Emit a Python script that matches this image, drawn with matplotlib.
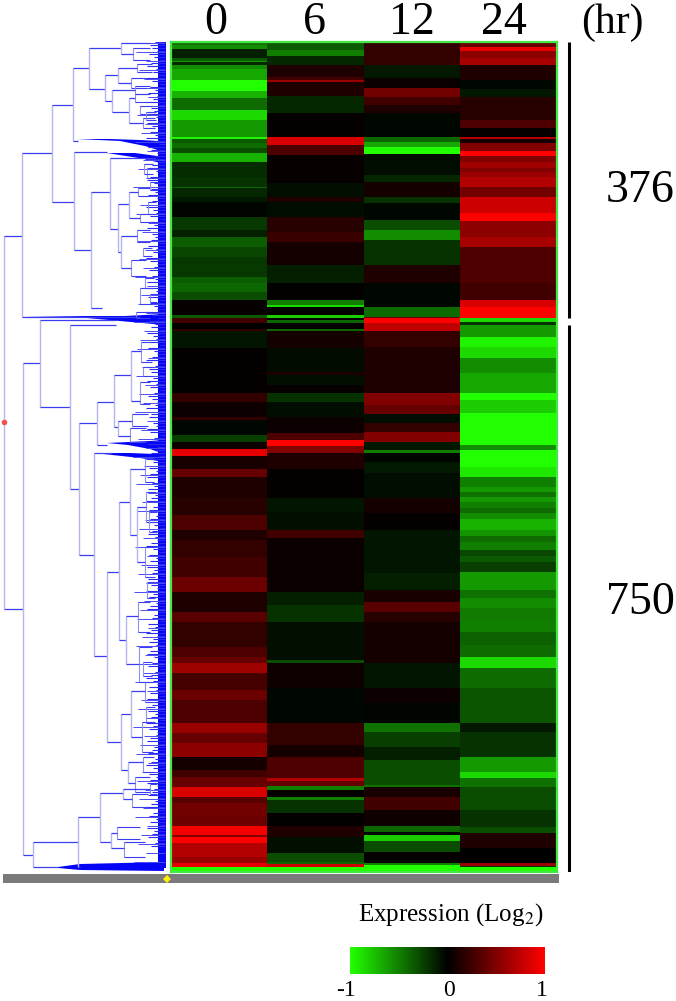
import numpy as np
import matplotlib
matplotlib.use("Agg")
import matplotlib.pyplot as plt
from matplotlib.colors import LinearSegmentedColormap

W, H = 676, 1001
plt.rcParams['font.family'] = ['Liberation Serif', 'DejaVu Serif']

hours = ["0", "6", "12", "24"]
cluster_sizes = ["376", "750"]
cluster_end_rows = [276, 830]

# heat map bands per time point: last row of each band and its log2 value
col0_ends = [3, 7, 16, 19, 20, 23, 27, 38, 49, 56, 68, 78, 95, 97, 101, 106, 111, 120, 135, 145, 146, 155, 160, 175,
             188, 195, 205, 215, 235, 241, 250, 258, 273, 276, 281, 287, 289, 306, 351, 360, 375, 378, 393, 400, 407,
             414, 427, 435, 456, 473, 488, 498, 515, 535, 550, 570, 580, 605, 615, 621, 631, 648, 658, 681, 691, 701,
             715, 728, 735, 745, 755, 761, 775, 784, 793, 795, 801, 815, 821, 825, 830]
col0_vals = [-.45, -.55, -.12, -.35, -.6, -.15, -.55, -.65, -1, -.7, -.42, -.85, -.6, -.95, -.35, -.42, -.3, -.7, -.17,
             -.2, -.4, -.15, -.1, -.02, -.22, -.13, -.36, -.28, -.22, -.36, -.4, -.3, .03, -.35, .25, 0, .2, -.08, .02,
             .2, .05, .2, -.03, -.25, .05, .9, .1, .4, .12, .15, .3, .12, .2, .25, .42, .12, .35, .2, .3, .4, .62, .28,
             .42, .3, .6, .4, .55, .08, .25, .4, .85, .35, .45, .42, .95, .5, 1, .7, .6, .9, -1]

col1_ends = [8, 14, 23, 35, 38, 40, 54, 71, 95, 103, 113, 141, 155, 160, 175, 190, 200, 223, 241, 258, 263, 265, 273,
             276, 278, 281, 287, 289, 306, 330, 333, 343, 351, 360, 375, 391, 398, 404, 411, 427, 456, 470, 488, 496,
             550, 563, 580, 618, 621, 646, 681, 703, 715, 736, 739, 744, 748, 755, 758, 771, 784, 795, 811, 820, 822,
             825, 830]
col1_vals = [-.35, -.5, -.15, .12, .25, .6, .12, -.15, .02, .85, .3, .03, -.06, .12, -.05, .15, .22, .08, -.12, .01,
             -.5, -.85, .01, -.8, 0, -.4, .02, -.4, .08, -.04, .12, -.06, .03, -.2, -.05, .05, .3, 1, .5, .12, .02,
             -.08, -.06, .25, .04, -.12, -.2, -.06, -.3, .06, -.03, .2, .08, .3, .7, .4, -.5, .02, -.5, -.2, .02,
             .12, -.06, -.3, -.4, .8, -1]

col2_ends = [23, 36, 46, 55, 63, 71, 95, 100, 105, 112, 133, 140, 155, 161, 178, 188, 198, 223, 241, 265, 275, 276,
             281, 289, 305, 351, 363, 372, 381, 390, 400, 408, 411, 420, 431, 456, 471, 488, 531, 548, 560, 570, 580,
             621, 646, 661, 681, 690, 705, 718, 743, 745, 755, 768, 784, 790, 793, 799, 810, 821, 823, 830]
col2_vals = [.2, -.1, .04, .45, .25, .12, -.03, -.4, -.65, -1, -.05, -.15, .08, -.2, -.03, -.3, -.55, -.2, .12, -.03,
             -.42, .4, 1, .75, .2, .12, .5, .4, -.05, .2, .5, -.1, -.5, -.02, -.1, -.05, .08, .02, -.08, -.12, .1,
             .35, .15, .08, -.08, .05, -.02, -.45, -.25, -.12, -.3, -.45, .1, .25, .06, -.4, -.03, -.8, -.3, .02,
             -.5, -1]

col3_ends = [5, 9, 16, 23, 38, 47, 55, 78, 86, 95, 97, 101, 109, 114, 120, 126, 130, 135, 145, 155, 171, 179, 195, 205,
             241, 258, 265, 276, 280, 283, 295, 305, 316, 331, 351, 358, 371, 403, 408, 425, 435, 445, 450, 455, 460,
             466, 471, 477, 488, 494, 500, 508, 514, 520, 530, 548, 556, 566, 578, 590, 603, 615, 626, 646, 681, 690,
             715, 730, 736, 745, 768, 785, 791, 806, 821, 824, 825, 830]
col3_vals = [.4, .9, .55, .65, .12, -.03, -.1, .15, .3, .03, .7, .1, .5, 1, .5, .62, .5, .6, .7, .45, .8, 1, .55, .65,
             .3, .25, .85, 1, -.85, -.2, -.6, -.95, -.85, -.55, -.65, -1, -.8, -1, -.55, -1, -.9, -.5, -.6, -.45, -.6,
             -.5, -.42, -.55, -.7, -.58, -.42, -.5, -.28, -.35, -.25, -.6, -.45, -.55, -.48, -.5, -.38, -.42, -.85,
             -.42, -.33, -.1, -.2, -.6, -.85, -.45, -.3, -.2, -.3, .12, 0, .6, -.2, -1]

# dendrogram: each link joins two rows, with its depth and how deep each child starts
link_top = [194, 111, 63, 26, 6, 1, 33, 26, 48, 56, 110, 150, 116, 162, 150, 194, 321, 278, 283, 381, 360, 333, 309,
            379, 411, 530, 460, 427, 465, 574, 672, 649, 720, 800, 775, 751, 747, 791]
link_bot = [567, 275, 160, 99, 47, 12, 59, 41, 70, 81, 208, 266, 187, 210, 176, 226, 813, 365, 447, 513, 403, 385, 359,
            394, 614, 700, 598, 493, 520, 622, 728, 695, 741, 825, 825, 800, 757, 806]
link_depth = [3.5, 22, 52, 73, 89, 121, 105, 118, 112, 129, 74, 91, 110, 118, 129, 121, 23, 40, 70, 79, 97, 114, 131,
              118, 94, 107, 119, 130, 137, 126, 121, 131, 128, 33, 78, 100, 123, 111]
link_top_tip = [22, 52, 73, 89, 121, 150, 118, 137, 135, 135, 107, 110, 155, 129, 138, 137, 40, 116, 116, 97, 114, 131,
                141, 132, 112, 119, 130, 145, 146, 138, 131, 145, 143, 78, 100, 123, 150, 117]
link_bot_tip = [23, 140, 74, 78, 105, 133, 112, 131, 129, 143, 91, 102, 118, 121, 140, 131, 33, 70, 79, 94, 107, 118,
                140, 130, 107, 121, 126, 137, 145, 139, 128, 142, 135, 58, 80, 111, 132, 124]

# lower merges hanging off the links above
sub_top = [6, 22, 36, 44, 52, 76, 64, 70, 146, 172, 188, 218, 206, 126, 140, 236, 246, 252, 300, 340, 372, 386, 416,
           450, 505, 560, 605, 640, 680, 715, 735, 742, 752, 785, 800, 122, 160, 270, 325, 470, 540, 620, 665]
sub_bot = [18, 30, 46, 52, 60, 86, 72, 78, 154, 180, 200, 234, 214, 136, 148, 246, 262, 260, 320, 362, 384, 400, 440,
           480, 535, 590, 640, 660, 710, 730, 750, 752, 765, 797, 815, 132, 172, 276, 334, 490, 556, 634, 680]
sub_depth = [133, 137, 131, 135, 135, 143, 140, 146, 138, 140, 137, 131, 143, 147, 150, 145, 140, 150, 141, 140, 132,
             130, 145, 146, 145, 138, 139, 145, 142, 143, 135, 150, 132, 117, 124, 144, 148, 136, 143, 149, 147, 143,
             146]
sub_tip = [150, 152, 146, 150, 148, 155, 152, 156, 150, 152, 150, 146, 152, 156, 158, 154, 152, 157, 152, 150, 148, 146,
           154, 156, 155, 150, 152, 154, 153, 154, 150, 157, 148, 140, 145, 153, 156, 150, 153, 157, 155, 152, 155]

# thick runs of tight merges: depth and row of the outline of each mass
wedge_depth = [[77, 110, 140, 158, 164, 164, 145, 120],
               [107, 135, 150, 164, 164, 145],
               [22, 87, 125, 164, 164, 120, 87],
               [107, 128, 150, 164, 164, 150, 128],
               [94, 130, 155, 164, 164, 140],
               [33, 58, 80, 164, 164, 80, 58]]
wedge_row = [[97, 97, 98, 99, 111, 110, 104, 99],
             [111, 111, 113, 115, 122, 117],
             [275, 274, 274, 272, 283, 279, 276],
             [401, 400, 399, 398, 412, 407, 403],
             [411, 411, 412, 410, 420, 416],
             [825, 825, 822, 820, 829, 828, 826]]

# leaf tips down the dendrogram, one every three rows
tooth_tip = [155, 150, 152, 157, 149, 154, 159, 151, 147, 156, 153, 158, 146, 152, 160, 150, 155, 148, 157, 153,
             145, 159, 151, 154, 149, 156, 160, 147, 152, 158, 150, 155, 146, 153, 159, 148, 151, 157, 154, 145,
             158, 152, 149, 156, 160, 150, 147, 154, 158, 151, 155, 148, 157, 152, 159, 146, 153, 156, 150, 160,
             149, 154, 147, 158, 152, 155, 151, 159, 148, 156, 153, 160, 146, 150, 157, 154, 149, 158, 152, 155,
             147, 159, 151, 156, 153, 148, 160, 150, 154, 157, 146, 152, 158, 149, 155, 151, 159, 147, 153, 156,
             150, 160, 148, 154, 157, 152, 146, 158, 155, 149, 151, 159, 153, 147, 156, 150, 160, 154, 148, 152,
             157, 155, 146, 159, 151, 149, 158, 153, 156, 147, 150, 160, 154, 152, 148, 157, 155, 151, 159, 146,
             153, 158, 149, 156, 150, 147, 160, 152, 154, 148, 157, 155, 151, 146, 159, 153, 149, 158, 156, 150,
             147, 154, 160, 152, 148, 155, 157, 151, 146, 153, 159, 149, 156, 150, 158, 147, 154, 152, 160, 148,
             155, 151, 157, 146, 153, 149, 159, 156, 150, 147, 158, 154, 152, 160, 148, 155, 151, 146, 157, 153,
             149, 156, 159, 150, 147, 154, 158, 152, 148, 160, 155, 151, 146, 153, 157, 149, 156, 150, 159, 147,
             154, 152, 158, 148, 155, 151, 160, 146, 153, 149, 157, 156, 150, 147, 159, 154, 152, 148, 158, 155,
             151, 146, 153, 160, 149, 156, 150, 147, 157, 154, 152, 148, 159, 155, 151, 146, 158, 153, 149, 156,
             150, 160, 147, 154, 152, 148, 157, 155, 151]

# longer leaves, one every nine rows
long_tip = [142, 136, 146, 139, 144, 134, 148, 140, 137, 145, 141, 135, 147, 143, 138, 146, 133, 144, 140, 136,
            148, 142, 137, 145, 139, 143, 135, 147, 141, 138, 146, 134, 144, 140, 137, 148, 142, 136, 145, 139,
            143, 135, 147, 141, 138, 146, 133, 144, 140, 136, 148, 142, 137, 145, 139, 143, 135, 147, 141, 138,
            146, 134, 144, 140, 137, 148, 142, 136, 145, 139, 143, 135, 147, 141, 138, 146, 133, 144, 140, 136,
            148, 142, 137, 145, 139, 143, 135, 147, 141, 138, 146, 134]

scale_positions = [-1.04, 0.015, 0.97]
scale_labels = ["-1", "0", "1"]
hour_centres = [0.116, 0.371, 0.624, 0.862]


def ax_px(x0, y0, x1, y1):
    return fig.add_axes([x0 / W, 1 - y1 / H, (x1 - x0) / W, (y1 - y0) / H])


def expand(ends, vals):
    return np.repeat(vals, np.diff([0] + ends))


cmap = LinearSegmentedColormap.from_list("gbr", ["#22ff00", "#000000", "#ff0000"])
fig = plt.figure(figsize=(W / 100, H / 100), dpi=100)

# heat map
ax = ax_px(171, 42, 557, 872)
matrix = np.column_stack([expand(col0_ends, col0_vals), expand(col1_ends, col1_vals),
                          expand(col2_ends, col2_vals), expand(col3_ends, col3_vals)])
ax.imshow(matrix, cmap=cmap, vmin=-1, vmax=1, aspect="auto", interpolation="nearest")
ax.set_xticks([])
ax.set_yticks([])
for s in ax.spines.values():
    s.set_color("#44e844")
    s.set_linewidth(1.6)

# time labels
for c, h in zip(hour_centres, hours):
    ax.text(c, 1.0235, h, fontsize=33, ha="center", va="center", transform=ax.transAxes)
ax.text(1.143, 1.0235, "(hr)", fontsize=30, ha="center", va="center", transform=ax.transAxes)

# dendrogram
den = ax_px(0, 42, 171, 872)
den.set_xlim(0, 171)
den.set_ylim(830, 0)
den.axis("off")
for r, tip in enumerate(tooth_tip):
    den.plot([tip, 165], [r * 3, r * 3], color="#2a2af2", lw=0.8, solid_capstyle="butt")
for r, tip in enumerate(long_tip):
    den.plot([tip, 165], [r * 9 + 1, r * 9 + 1], color="#4a4af2", lw=0.7, solid_capstyle="butt")
for d, r in zip(wedge_depth, wedge_row):
    den.fill(d, r, color="#0505f5", lw=0)
den.fill_betweenx([0, 826], 158, 165.5, color="#0505f5", lw=0)
for t, b, d, tip in zip(sub_top, sub_bot, sub_depth, sub_tip):
    den.plot([d, d], [t, b], color="#8f92ee", lw=0.8, solid_capstyle="butt")
    den.plot([d, tip], [t, t], color="#3c3cf2", lw=0.8, solid_capstyle="butt")
    den.plot([d, tip], [b, b], color="#3c3cf2", lw=0.8, solid_capstyle="butt")
for t, b, d, tt, bt in zip(link_top, link_bot, link_depth, link_top_tip, link_bot_tip):
    den.plot([d, d], [t, b], color="#b4b6f0", lw=1.0, solid_capstyle="butt")
    den.plot([d, tt], [t, t], color="#3c3cf2", lw=0.9, solid_capstyle="butt")
    den.plot([d, bt], [b, b], color="#3c3cf2", lw=0.9, solid_capstyle="butt")
den.plot([3.5], [380], marker="o", ms=4, color="#f05050", mew=0)

# slider under the tree
bar = ax_px(3, 874, 559, 883)
bar.set_facecolor("#7a7a7a")
bar.set_xlim(3, 559)
bar.set_ylim(0, 1)
bar.set_xticks([])
bar.set_yticks([])
for s in bar.spines.values():
    s.set_visible(False)
bar.plot([167], [0.5], marker="D", ms=4.5, color="#ffee00", mew=0, clip_on=False)

# cluster brackets
side = ax_px(560, 42, 676, 872)
side.set_xlim(560, 676)
side.set_ylim(830, 0)
side.axis("off")
start = 0
for end, label in zip(cluster_end_rows, cluster_sizes):
    side.plot([569, 569], [start, end], color="black", lw=2.2, solid_capstyle="butt")
    side.text(640, (start + end) / 2 + 11 if start == 0 else (start + end) / 2 + 4, label, fontsize=33,
              ha="center", va="center")
    start = end + 7

# colour scale
cax = ax_px(350, 947, 545, 974)
sm = plt.cm.ScalarMappable(cmap=cmap, norm=plt.Normalize(-1, 1))
cb = fig.colorbar(sm, cax=cax, orientation="horizontal")
cb.outline.set_visible(False)
cb.set_ticks([])
for p, lab in zip(scale_positions, scale_labels):
    cax.text(p, -0.6, lab, fontsize=17, ha="center", va="center", transform=cax.get_xaxis_transform())
fig.text(451 / W, 1 - 915 / H, "Expression (Log$_2$)", fontsize=18, ha="center", va="center", math_fontfamily="stix")

fig.savefig("out.png", dpi=100)
